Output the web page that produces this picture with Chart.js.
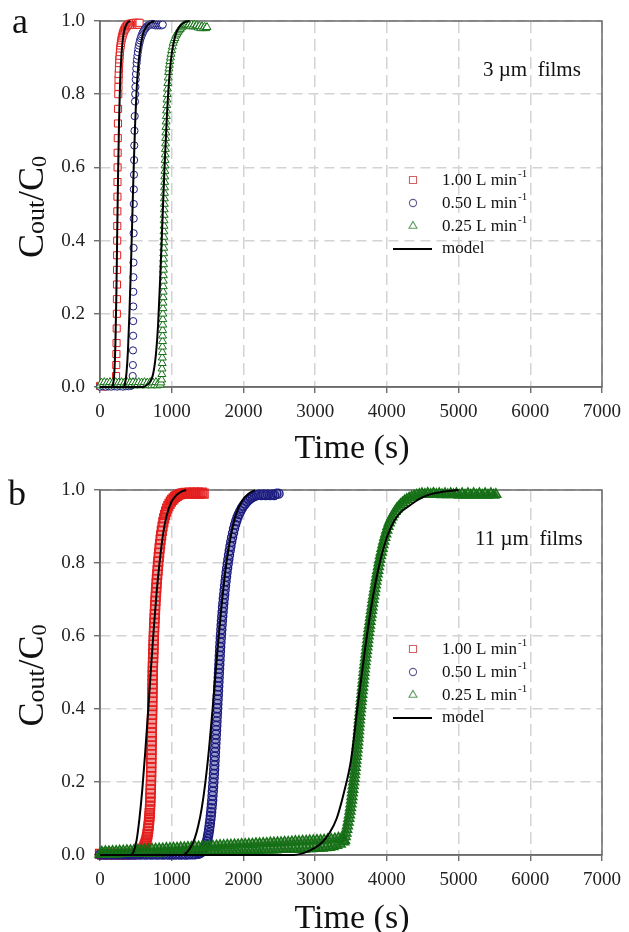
<!DOCTYPE html>
<html>
<head>
<meta charset="utf-8">
<script src="https://cdn.jsdelivr.net/npm/chart.js@4.4.1/dist/chart.umd.min.js"></script>
<style>
    body { margin: 0; background: #fff; }
    .panel { position: absolute; left: 0; width: 629px; height: 466px; }
</style>
</head>
<body>
<div class="panel" style="top:0"><canvas id="chartA" width="629" height="466"></canvas></div>
<div class="panel" style="top:466px"><canvas id="chartB" width="629" height="466"></canvas></div>
<script>
const SERIF = '"Liberation Serif", "Times New Roman", serif';

const xTicks = [0, 1000, 2000, 3000, 4000, 5000, 6000, 7000];
const yTicks = [0, 0.2, 0.4, 0.6, 0.8, 1.0];
const flowLabels = ['1.00 L min', '0.50 L min', '0.25 L min'];
const modelLabel = 'model';
const filmLabels = ['3 \u00b5m  films', '11 \u00b5m  films'];
const panelLetters = ['a', 'b'];

// panel a, 3 um films: [time (s), Cout/C0]
const a100 = [[0,.003],[20,.002],[40,.004],[60,.002],[80,.003],[100,.002],[120,.004],[140,.003],[160,.004],[180,.003],[200,.005],
    [220,.01],[224,.03],[227,.06],[229,.09],[231,.12],[233,.16],[235,.20],[236,.24],[237,.28],[238,.32],[239,.36],[240,.40],
    [241,.44],[242,.48],[243,.52],[244,.56],[245,.60],[246,.64],[248,.68],[250,.72],[252,.76],[255,.80],[257,.82],[259,.84],
    [261,.855],[264,.87],[267,.885],[270,.895],[274,.905],[278,.915],[282,.925],[287,.933],[292,.94],[298,.947],[304,.953],
    [310,.958],[317,.963],[324,.968],[332,.972],[340,.976],[349,.979],[358,.982],[367,.985],[377,.987],[387,.989],[398,.99],
    [409,.992],[420,.99],[432,.993],[444,.99],[456,.994],[468,.99],[480,.995],[492,.99],[504,.995],[516,.99],[528,.995],
    [540,.99],[552,.995]];
const a050 = [[0,.001],[40,.002],[80,.001],[120,.002],[160,.001],[200,.002],[240,.001],[280,.002],[320,.001],[360,.002],[400,.002],[430,.003],
    [445,.005],[452,.01],[456,.03],[458,.06],[460,.10],[462,.14],[463,.18],[464,.22],[465,.26],[466,.30],[467,.34],[468,.38],
    [469,.42],[470,.46],[471,.50],[472,.54],[474,.58],[476,.62],[478,.66],[481,.70],[484,.74],[488,.78],[491,.80],[494,.82],
    [498,.84],[502,.855],[506,.87],[511,.885],[516,.895],[522,.905],[528,.915],[535,.925],[542,.933],[550,.94],[558,.947],
    [567,.953],[576,.958],[586,.963],[596,.968],[607,.972],[618,.976],[630,.979],[642,.982],[655,.985],[668,.987],[682,.989],
    [696,.99],[711,.99],[726,.992],[741,.99],[756,.99],[771,.988],[786,.99],[801,.988],[816,.99],[831,.988],[846,.99],
    [861,.988],[875,.99]];
const a025 = [[0,.004],[20,.012],[40,.005],[60,.013],[80,.004],[100,.012],[120,.005],[140,.013],[160,.004],[180,.012],[200,.005],
    [220,.013],[240,.004],[260,.012],[280,.005],[300,.013],[320,.004],[340,.012],[360,.005],[380,.013],[400,.004],[420,.012],
    [440,.005],[460,.013],[480,.004],[500,.012],[520,.005],[540,.013],[560,.004],[580,.012],[600,.005],[620,.013],[640,.004],
    [660,.012],[680,.005],[700,.013],[720,.004],[740,.012],[760,.005],[780,.013],[800,.004],[820,.012],[840,.006],[850,.012],
    [860,.02],[863,.035],[865,.05],[867,.065],[869,.08],[870,.095],[871,.11],[872,.125],[873,.14],[874,.155],[875,.17],
    [876,.185],[877,.2],[878,.215],[879,.23],[880,.245],[881,.26],[882,.275],[883,.29],[884,.305],[885,.32],[886,.335],
    [887,.35],[888,.365],[889,.38],[890,.395],[891,.41],[892,.425],[893,.44],[894,.455],[895,.47],[896,.485],[897,.5],
    [898,.515],[899,.53],[900,.545],[902,.56],[903,.575],[905,.59],[906,.605],[908,.62],[910,.635],[912,.65],[914,.665],
    [916,.68],[918,.695],[920,.71],[922,.725],[925,.74],[928,.755],[931,.77],[934,.785],[937,.8],[941,.815],[946,.83],
    [951,.845],[956,.86],[961,.87],[967,.88],[974,.89],[982,.90],[990,.91],[999,.92],[1009,.93],[1020,.94],[1032,.947],
    [1045,.953],[1058,.96],[1072,.965],[1087,.97],[1102,.974],[1118,.978],[1135,.982],[1152,.985],[1170,.988],[1188,.99],
    [1206,.99],[1224,.988],[1242,.99],[1260,.985],[1278,.99],[1296,.985],[1314,.99],[1332,.985],[1350,.988],[1368,.982],
    [1386,.986],[1404,.98],[1422,.985],[1440,.98],[1458,.984],[1476,.98],[1492,.983]];
const aModel100 = [[0,0],[170,0],[185,.01],[200,.04],[215,.12],[228,.25],[240,.42],[252,.58],[265,.72],[280,.83],[300,.91],
    [325,.96],[355,.985],[390,.997],[420,1]];
const aModel050 = [[0,0],[330,0],[350,.01],[370,.04],[390,.10],[410,.20],[430,.32],[450,.46],[470,.60],[490,.72],[510,.81],
    [535,.88],[565,.93],[600,.965],[650,.985],[700,.995],[760,1]];
const aModel025 = [[0,0],[600,0],[650,.005],[700,.015],[740,.035],[780,.09],[810,.17],[840,.30],[870,.45],[900,.60],[930,.73],
    [960,.83],[1000,.91],[1050,.96],[1110,.985],[1180,.997],[1250,1]];

// panel b, 11 um films
const b100 = [[0,.003],[30,.002],[60,.003],[90,.002],[120,.003],[150,.002],[180,.003],[210,.002],[240,.003],[270,.002],[300,.003],
    [330,.002],[360,.003],[390,.002],[420,.003],[450,.002],[480,.003],[510,.003],[530,.004],
    [540,.005],[555,.008],[570,.01],[585,.013],[600,.017],[612,.021],[622,.026],[632,.031],[641,.037],[649,.043],[656,.05],
    [662,.057],[668,.064],[673,.072],[678,.08],[682,.088],[686,.097],[690,.106],[693,.115],[696,.125],[699,.135],[701,.146],
    [703,.157],[705,.168],[707,.18],[709,.192],[711,.204],[712,.216],[713,.228],[714,.24],[715,.252],[716,.264],[717,.276],
    [718,.288],[719,.30],[720,.312],[721,.324],[722,.336],[723,.348],[724,.36],[725,.372],[726,.384],[727,.396],[728,.408],
    [729,.42],[730,.432],[731,.444],[732,.456],[733,.468],[734,.48],[735,.492],[736,.504],[737,.516],[739,.528],[741,.54],
    [743,.552],[745,.564],[747,.576],[749,.588],[751,.60],[753,.612],[755,.624],[758,.636],[761,.648],[764,.66],[767,.672],
    [770,.684],[773,.696],[777,.708],[781,.72],[785,.732],[789,.744],[793,.756],[798,.768],[803,.78],[808,.792],[813,.804],
    [819,.816],[825,.828],[831,.84],[838,.852],[845,.864],[853,.876],[862,.888],[872,.90],[883,.912],[895,.922],[908,.932],
    [922,.941],[937,.949],[953,.956],[970,.962],[988,.968],[1007,.973],[1027,.977],[1048,.981],[1070,.984],[1093,.987],
    [1117,.989],[1142,.99],[1168,.991],[1195,.992],[1222,.99],[1250,.993],[1278,.99],[1306,.993],[1334,.99],[1362,.993],
    [1390,.99],[1418,.993],[1445,.99]];
const b050 = [[0,.001],[40,.002],[80,.001],[120,.002],[160,.001],[200,.002],[240,.001],[280,.002],[320,.001],[360,.002],[400,.001],
    [440,.002],[480,.001],[520,.002],[560,.001],[600,.002],[640,.001],[680,.002],[720,.001],[760,.002],[800,.001],[840,.002],
    [880,.001],[920,.002],[960,.001],[1000,.002],[1040,.001],[1080,.002],[1120,.001],[1160,.002],[1200,.001],[1240,.002],
    [1280,.002],[1320,.002],[1360,.003],
    [1380,.004],[1400,.006],[1420,.009],[1440,.013],[1455,.018],[1468,.024],[1480,.03],[1490,.037],[1499,.044],[1507,.052],
    [1514,.06],[1521,.069],[1527,.078],[1533,.087],[1539,.097],[1545,.107],[1550,.117],[1555,.128],[1560,.139],[1565,.15],
    [1569,.162],[1573,.174],[1577,.186],[1581,.198],[1585,.21],[1589,.222],[1592,.234],[1595,.246],[1598,.258],[1601,.27],
    [1604,.282],[1607,.294],[1610,.306],[1613,.318],[1616,.33],[1619,.342],[1622,.354],[1625,.366],[1628,.378],[1631,.39],
    [1634,.402],[1637,.414],[1640,.426],[1643,.438],[1646,.45],[1649,.462],[1652,.474],[1655,.486],[1658,.498],[1661,.51],
    [1664,.522],[1667,.534],[1670,.546],[1673,.558],[1676,.57],[1680,.582],[1684,.594],[1688,.606],[1692,.618],[1696,.63],
    [1700,.642],[1705,.654],[1710,.666],[1715,.678],[1720,.69],[1726,.702],[1732,.714],[1738,.726],[1744,.738],[1751,.75],
    [1758,.762],[1765,.774],[1773,.786],[1781,.798],[1790,.81],[1799,.822],[1809,.834],[1819,.846],[1830,.858],[1842,.87],
    [1855,.882],[1869,.894],[1884,.905],[1900,.915],[1917,.925],[1936,.934],[1956,.942],[1978,.95],[2001,.957],[2025,.963],
    [2050,.969],[2076,.974],[2103,.978],[2131,.981],[2160,.984],[2190,.986],[2220,.988],[2250,.986],[2280,.988],[2310,.986],
    [2340,.988],[2370,.986],[2400,.988],[2430,.986],[2460,.99],[2490,.99]];
const b025 = [[0,.002],[25,.008],[50,.002],[75,.009],[100,.003],[125,.009],[150,.003],[175,.010],[200,.003],[225,.010],
    [250,.003],[275,.011],[300,.004],[325,.011],[350,.004],[375,.012],[400,.004],[425,.012],[450,.004],[475,.013],[500,.005],
    [525,.013],[550,.005],[575,.014],[600,.005],[625,.014],[650,.005],[675,.015],[700,.006],[725,.016],[750,.006],[775,.016],
    [800,.006],[825,.017],[850,.006],[875,.017],[900,.007],[925,.018],[950,.007],[975,.018],[1000,.007],[1025,.019],[1050,.007],
    [1075,.019],[1100,.008],[1125,.020],[1150,.008],[1175,.020],[1200,.008],[1225,.021],[1250,.008],[1275,.021],[1300,.009],
    [1325,.022],[1350,.009],[1375,.022],[1400,.009],[1425,.023],[1450,.009],[1475,.023],[1500,.010],[1525,.024],[1550,.010],
    [1575,.024],[1600,.010],[1625,.025],[1650,.010],[1675,.026],[1700,.011],[1725,.026],[1750,.011],[1775,.027],[1800,.011],
    [1825,.027],[1850,.011],[1875,.028],[1900,.012],[1925,.028],[1950,.012],[1975,.029],[2000,.012],[2025,.029],[2050,.012],
    [2075,.030],[2100,.013],[2125,.030],[2150,.013],[2175,.031],[2200,.013],[2225,.031],[2250,.013],[2275,.032],[2300,.014],
    [2325,.032],[2350,.014],[2375,.033],[2400,.014],[2425,.033],[2450,.014],[2475,.034],[2500,.015],[2525,.034],[2550,.015],
    [2575,.035],[2600,.015],[2625,.035],[2650,.015],[2675,.036],[2700,.016],[2725,.037],[2750,.016],[2775,.037],[2800,.016],
    [2825,.038],[2850,.016],[2875,.038],[2900,.017],[2925,.039],[2950,.017],[2975,.039],[3000,.018],[3025,.040],[3050,.018],
    [3075,.040],[3100,.019],[3125,.041],[3150,.020],[3175,.042],[3200,.021],[3225,.043],[3250,.023],[3275,.044],[3300,.026],
    [3325,.046],[3350,.030],[3375,.048],[3400,.036],
    [3410,.04],[3420,.05],[3430,.06],[3440,.07],[3450,.08],[3460,.09],[3470,.10],[3478,.11],[3486,.12],[3493,.13],[3500,.14],
    [3507,.15],[3513,.16],[3519,.17],[3525,.18],[3531,.19],[3537,.20],[3543,.21],[3548,.22],[3553,.23],[3558,.24],[3563,.25],
    [3568,.26],[3573,.27],[3578,.28],[3583,.29],[3588,.30],[3593,.31],[3597,.32],[3601,.33],[3605,.34],[3609,.35],[3613,.36],
    [3617,.37],[3621,.38],[3626,.39],[3631,.40],[3636,.41],[3641,.42],[3646,.43],[3651,.44],[3656,.45],[3661,.46],[3666,.47],
    [3671,.48],[3676,.49],[3681,.50],[3686,.51],[3691,.52],[3697,.53],[3703,.54],[3709,.55],[3715,.56],[3721,.57],[3727,.58],
    [3733,.59],[3739,.60],[3745,.61],[3751,.62],[3758,.63],[3765,.64],[3772,.65],[3779,.66],[3786,.67],[3793,.68],[3800,.69],
    [3807,.70],[3815,.71],[3823,.72],[3831,.73],[3839,.74],[3847,.75],[3855,.76],[3864,.77],[3873,.78],[3882,.79],[3891,.80],
    [3901,.81],[3911,.82],[3922,.83],[3933,.84],[3945,.85],[3957,.86],[3970,.87],[3984,.88],[3999,.89],[4015,.90],[4032,.91],
    [4050,.918],[4070,.926],[4091,.934],[4113,.941],[4137,.948],[4162,.954],[4189,.96],[4217,.965],[4247,.97],[4278,.974],
    [4311,.978],[4345,.981],[4380,.984],[4416,.986],[4453,.988],[4490,.99],[4530,.988],[4570,.991],[4610,.988],[4650,.991],
    [4690,.988],[4730,.99],[4770,.987],[4810,.99],[4850,.987],[4890,.99],[4930,.987],[4970,.99],[5010,.986],[5050,.99],
    [5090,.986],[5130,.99],[5170,.986],[5210,.99],[5250,.986],[5290,.99],[5330,.986],[5370,.99],[5410,.986],[5450,.99],
    [5490,.986],[5520,.988]];
const bModel100 = [[0,0],[430,0],[470,.01],[510,.04],[550,.10],[590,.18],[630,.28],[670,.39],[710,.51],[750,.62],[790,.72],
    [830,.80],[880,.88],[930,.93],[990,.965],[1060,.985],[1130,.995],[1200,1]];
const bModel050 = [[0,0],[1150,0],[1200,.005],[1260,.02],[1320,.045],[1370,.08],[1420,.13],[1470,.20],[1520,.29],[1570,.40],
    [1620,.52],[1670,.63],[1720,.73],[1770,.81],[1830,.88],[1900,.935],[1980,.97],[2070,.99],[2160,1]];
const bModel025 = [[0,0],[2700,0],[2800,.003],[2900,.01],[3000,.02],[3100,.035],[3200,.06],[3300,.10],[3400,.17],[3500,.26],
    [3600,.42],[3700,.57],[3800,.70],[3900,.80],[4000,.87],[4100,.915],[4200,.94],[4300,.955],[4450,.975],[4600,.988],
    [4800,.996],[5000,1]];

const markerColors = ['#e41e1e', '#1c1c80', '#167216'];
const markerTints = ['rgba(228,30,30,0.25)', 'rgba(28,28,128,0.25)', 'rgba(18,100,18,0.6)'];
const legendColors = ['#d06464', '#5e5e90', '#5c9c5c'];
const markerStyles = [['rect', 5], ['circle', 3.6], ['triangle', 4.6]];

const toXY = arr => arr.map(p => ({x: p[0], y: p[1]}));

function markerSet(data, i, o) {
    return {
        data: toXY(data),
        showLine: false,
        pointStyle: markerStyles[i][0],
        pointRadius: markerStyles[i][1] * o.markerScale,
        pointBorderWidth: o.markerWidth,
        pointBorderColor: markerColors[i],
        pointBackgroundColor: o.tinted ? markerTints[i] : '#fff',
        clip: false,
        order: 3 - i
    };
}

function modelSet(data) {
    return {
        data: toXY(data),
        showLine: true,
        borderColor: '#000',
        borderWidth: 2,
        pointRadius: 0,
        cubicInterpolationMode: 'monotone',
        clip: false,
        order: 0
    };
}

function drawYTitle(ctx, x, yMid) {
    const parts = [['C', 36, 0], ['out', 26, 1], ['/', 36, 0], ['C', 36, 0], ['0', 22, 3]];
    let total = 0;
    for (const p of parts) {
        ctx.font = `${p[1]}px ${SERIF}`;
        p.w = ctx.measureText(p[0]).width;
        total += p.w;
    }
    ctx.save();
    ctx.translate(x, yMid);
    ctx.rotate(-Math.PI / 2);
    ctx.textBaseline = 'alphabetic';
    ctx.textAlign = 'left';
    let cx = -total / 2;
    for (const p of parts) {
        ctx.font = `${p[1]}px ${SERIF}`;
        ctx.fillText(p[0], cx, p[2]);
        cx += p.w;
    }
    ctx.restore();
}

const annotate = {
    id: 'annotate',
    beforeDatasetsDraw(chart) {
        const {ctx, chartArea: a} = chart;
        ctx.save();
        ctx.strokeStyle = '#6b6b6b';
        ctx.lineWidth = 1.5;
        ctx.strokeRect(a.left, a.top, a.right - a.left, a.bottom - a.top);
        ctx.restore();
    },
    afterDraw(chart, args, opts) {
        const {ctx, chartArea: a} = chart;
        ctx.save();
        ctx.fillStyle = '#111';
        ctx.textAlign = 'left';
        ctx.textBaseline = 'alphabetic';

        ctx.font = `36px ${SERIF}`;
        ctx.fillText(opts.letter, opts.letterX, opts.letterY);

        ctx.font = `21px ${SERIF}`;
        ctx.fillText(opts.film, opts.filmX, a.top + 55);

        ctx.font = `34px ${SERIF}`;
        ctx.textAlign = 'center';
        ctx.fillText('Time (s)', (a.left + a.right) / 2 + 1, a.bottom + opts.titleDy);
        ctx.textAlign = 'left';

        drawYTitle(ctx, 43, (a.top + a.bottom) / 2 + 3);

        // legend
        const rows = [159, 182, 205, 228];
        ctx.textBaseline = 'middle';
        flowLabels.forEach((label, i) => {
            const y = a.top + rows[i];
            ctx.save();
            ctx.strokeStyle = legendColors[i];
            ctx.fillStyle = '#fff';
            ctx.lineWidth = 1.1;
            Chart.helpers.drawPoint(ctx, {pointStyle: markerStyles[i][0], radius: markerStyles[i][1], borderWidth: 1.1}, 413, y);
            ctx.restore();
            ctx.font = `17px ${SERIF}`;
            ctx.fillText(label, 442, y + 1);
            const w = ctx.measureText(label).width;
            ctx.font = `11px ${SERIF}`;
            ctx.fillText('-1', 442 + w + 1, y - 6);
        });
        const ym = a.top + rows[3];
        ctx.strokeStyle = '#000';
        ctx.lineWidth = 2;
        ctx.beginPath();
        ctx.moveTo(393, ym);
        ctx.lineTo(432, ym);
        ctx.stroke();
        ctx.font = `17px ${SERIF}`;
        ctx.fillText(modelLabel, 442, ym);
        ctx.restore();
    }
};

function makePanel(id, series, models, o) {
    const datasets = models.map(modelSet).concat(series.map((s, i) => markerSet(s, i, o)));
    return new Chart(document.getElementById(id), {
        type: 'scatter',
        data: {datasets},
        plugins: [annotate],
        options: {
            responsive: false,
            animation: false,
            events: [],
            layout: {padding: {top: o.areaTop, right: 22, left: 0, bottom: 0}},
            plugins: {
                legend: {display: false},
                tooltip: {enabled: false},
                annotate: o
            },
            scales: {
                x: {
                    type: 'linear',
                    min: 0,
                    max: 7000,
                    afterBuildTicks: s => { s.ticks = xTicks.map(v => ({value: v})); },
                    afterFit: s => { s.height = 466 - o.areaBottom; },
                    ticks: {
                        font: {family: SERIF, size: 19},
                        color: '#222',
                        padding: 8,
                        maxRotation: 0,
                        autoSkip: false,
                        callback: v => String(v)
                    },
                    grid: {color: '#d3d3d3', lineWidth: 1.5, tickLength: 6, tickColor: '#555', tickWidth: 1.2, tickBorderDash: []},
                    border: {display: true, color: '#6b6b6b', width: 1.5, dash: [12, 6]}
                },
                y: {
                    type: 'linear',
                    min: 0,
                    max: 1,
                    afterBuildTicks: s => { s.ticks = yTicks.map(v => ({value: v})); },
                    afterFit: s => { s.width = 100; },
                    ticks: {
                        font: {family: SERIF, size: 19},
                        color: '#222',
                        padding: 9,
                        autoSkip: false,
                        callback: v => v.toFixed(1)
                    },
                    grid: {color: '#d3d3d3', lineWidth: 1.5, tickLength: 6, tickColor: '#555', tickWidth: 1.2, tickBorderDash: []},
                    border: {display: true, color: '#6b6b6b', width: 1.5, dash: [10, 6]}
                }
            }
        }
    });
}

makePanel('chartA', [a100, a050, a025], [aModel100, aModel050, aModel025], {
    letter: panelLetters[0], letterX: 12, letterY: 33, film: filmLabels[0], filmX: 483,
    areaTop: 21, areaBottom: 387, titleDy: 71, markerWidth: 1.0, markerScale: 1.0, tinted: false
});
makePanel('chartB', [b100, b050, b025], [bModel100, bModel050, bModel025], {
    letter: panelLetters[1], letterX: 8, letterY: 39, film: filmLabels[1], filmX: 475,
    areaTop: 24, areaBottom: 389, titleDy: 73, markerWidth: 1.4, markerScale: 1.25, tinted: true
});
</script>
</body>
</html>
